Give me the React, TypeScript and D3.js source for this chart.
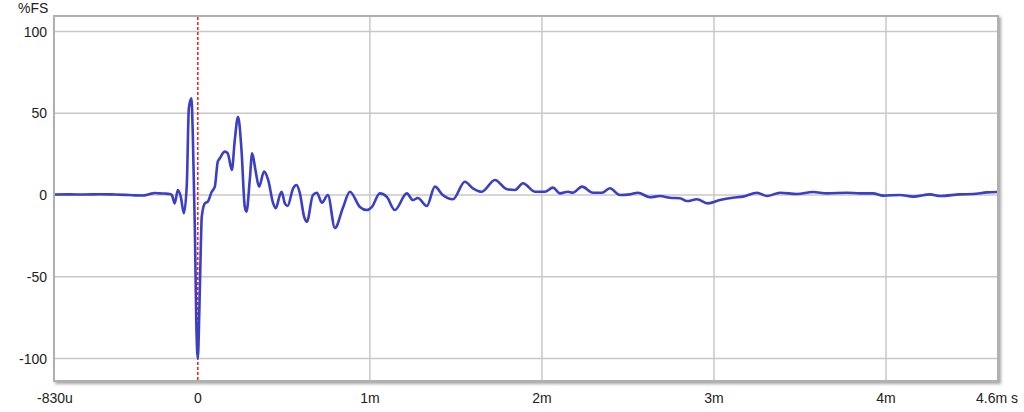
import React from "react";
import * as d3 from "d3";

const timesMs: number[] = [
  -0.831, -0.744, -0.657, -0.57, -0.483, -0.424, -0.366, -0.32, -0.279, -0.25, -0.221, -0.192, -0.163, -0.151,
  -0.134, -0.116, -0.099, -0.081, -0.064, -0.052, -0.037, -0.029, -0.017, -0.009, 0, 0.009, 0.017, 0.023,
  0.041, 0.058, 0.081, 0.099, 0.116, 0.128, 0.157, 0.174, 0.198, 0.215, 0.234, 0.254, 0.273, 0.283, 0.302,
  0.316, 0.335, 0.356, 0.385, 0.409, 0.438, 0.453, 0.477, 0.487, 0.506, 0.522, 0.554, 0.574, 0.593, 0.618,
  0.634, 0.669, 0.692, 0.721, 0.756, 0.797, 0.843, 0.884, 0.942, 0.983, 1.012, 1.058, 1.099, 1.145, 1.215,
  1.25, 1.279, 1.331, 1.378, 1.424, 1.483, 1.552, 1.599, 1.651, 1.727, 1.797, 1.843, 1.89, 1.959, 2.017,
  2.064, 2.105, 2.151, 2.18, 2.233, 2.297, 2.349, 2.395, 2.453, 2.512, 2.558, 2.628, 2.686, 2.744, 2.802,
  2.843, 2.901, 2.965, 3.035, 3.11, 3.169, 3.25, 3.308, 3.384, 3.483, 3.576, 3.657, 3.773, 3.849, 3.924,
  3.983, 4.081, 4.157, 4.256, 4.314, 4.43, 4.506, 4.587, 4.645,
];

const valuesPct: number[] = [
  0.3, 0.4, 0.3, 0.5, 0.3, 0.1, -0.2, -0.3, 0.6, 1.2, 1.0, 0.9, 0.6, 0,
  -5.1, 3.1, -1.0, -11.2, 6.1, 53.2, 59.2, 36.7, -21.4, -76.5, -100, -70.5, -33.7, -13.3,
  -5.1, -4.1, 2.0, 5.1, 20.4, 22.5, 26.5, 25.5, 15.3, 33.7, 47.9, 27.5, -7.2, -10.2, 9.2,
  25.5, 15.3, 5.1, 14.3, 9.2, -5.1, -8.1, 0, 2.0, -5.1, -6.7, 4.1, 6.1, 1.2, -13.3,
  -16.3, 0, 1.4, -4.7, 0, -20.2, -8.0, 2.0, -7.3, -9.2, -7.2, 1.0, -1.2, -9.2, 1.0,
  -3.1, -1.8, -6.7, 5.1, 0, -2.6, 8.1, 4.1, 2.0, 9.2, 3.5, 3.1, 7.2, 2.0, 2.0,
  4.5, 1.0, 2.0, 1.4, 5.1, 1.4, 1.4, 4.1, 0, 0.4, 1.4, -1.4, -0.6, -1.7, -2.0,
  -3.7, -2.6, -5.1, -3.1, -1.7, -1.0, 1.4, -0.6, 1.4, 0.6, 1.8, 1.0, 1.4, 1.0, 1.0,
  -0.4, 0, -1.0, 0.4, -0.6, 0.4, 0.6, 1.6, 1.8,
];

const yTicks: number[] = [100, 50, 0, -50, -100];
const xGridTicks: number[] = [1, 2, 3, 4];
const xTickValues: number[] = [-0.83, 0, 1, 2, 3, 4, 4.645];
const xTickLabels: string[] = ["-830u", "0", "1m", "2m", "3m", "4m", "4.6m s"];
const yAxisUnit = "%FS";

const W = 1024;
const H = 412;
const left = 55;
const right = 997;
const top = 17;
const bottom = 380;

export default function App() {
  const x = d3.scaleLinear().domain([-0.83, 4.645]).range([left, right]);
  const y = d3.scaleLinear().domain([-100, 100]).range([358.5, 31.5]);

  const pts: [number, number][] = timesMs.map((t, i) => [t, valuesPct[i]]);
  const line = d3
    .line<[number, number]>()
    .x((d) => x(d[0]))
    .y((d) => y(d[1]))
    .curve(d3.curveMonotoneX);

  const font = "'Liberation Sans', Arial, sans-serif";
  const fs = 14;

  return (
    <svg
      width={W}
      height={H}
      style={{ position: "absolute", left: 0, top: 0, background: "#fff" }}
      fontFamily={font}
    >
      <defs>
        <filter id="shadow" x="-5%" y="-5%" width="110%" height="115%">
          <feDropShadow dx="2" dy="2" stdDeviation="1.5" floodColor="#000" floodOpacity="0.35" />
        </filter>
        <clipPath id="plotClip">
          <rect x={left} y={top} width={right - left} height={bottom - top} />
        </clipPath>
      </defs>

      <rect
        x={left - 1}
        y={top - 1}
        width={right - left + 2}
        height={bottom - top + 2}
        fill="#fff"
        stroke="#b0b0b0"
        strokeWidth={2}
        filter="url(#shadow)"
      />

      <g clipPath="url(#plotClip)">
        {yTicks.map((v) => (
          <line key={"gy" + v} x1={left} x2={right} y1={y(v)} y2={y(v)} stroke="#c8c8c8" strokeWidth={1.5} />
        ))}
        {xGridTicks.map((v) => (
          <line key={"gx" + v} x1={x(v)} x2={x(v)} y1={top} y2={bottom} stroke="#c8c8c8" strokeWidth={1.5} />
        ))}
        <line
          x1={x(0)}
          x2={x(0)}
          y1={top}
          y2={bottom}
          stroke="#ee1c1c"
          strokeWidth={1.5}
          strokeDasharray="3,2"
        />
        <path d={line(pts) || ""} fill="none" stroke="#3a3fc6" strokeWidth={2.6} strokeLinejoin="round" />
      </g>

      <text x={18} y={13} fontSize={fs} fill="#222">
        {yAxisUnit}
      </text>
      {yTicks.map((v) => (
        <text key={"ty" + v} x={47} y={y(v) + 5} fontSize={fs} fill="#222" textAnchor="end">
          {v}
        </text>
      ))}
      {xTickValues.map((v, i) => (
        <text key={"tx" + i} x={x(v)} y={403} fontSize={fs} fill="#222" textAnchor="middle">
          {xTickLabels[i]}
        </text>
      ))}
    </svg>
  );
}
